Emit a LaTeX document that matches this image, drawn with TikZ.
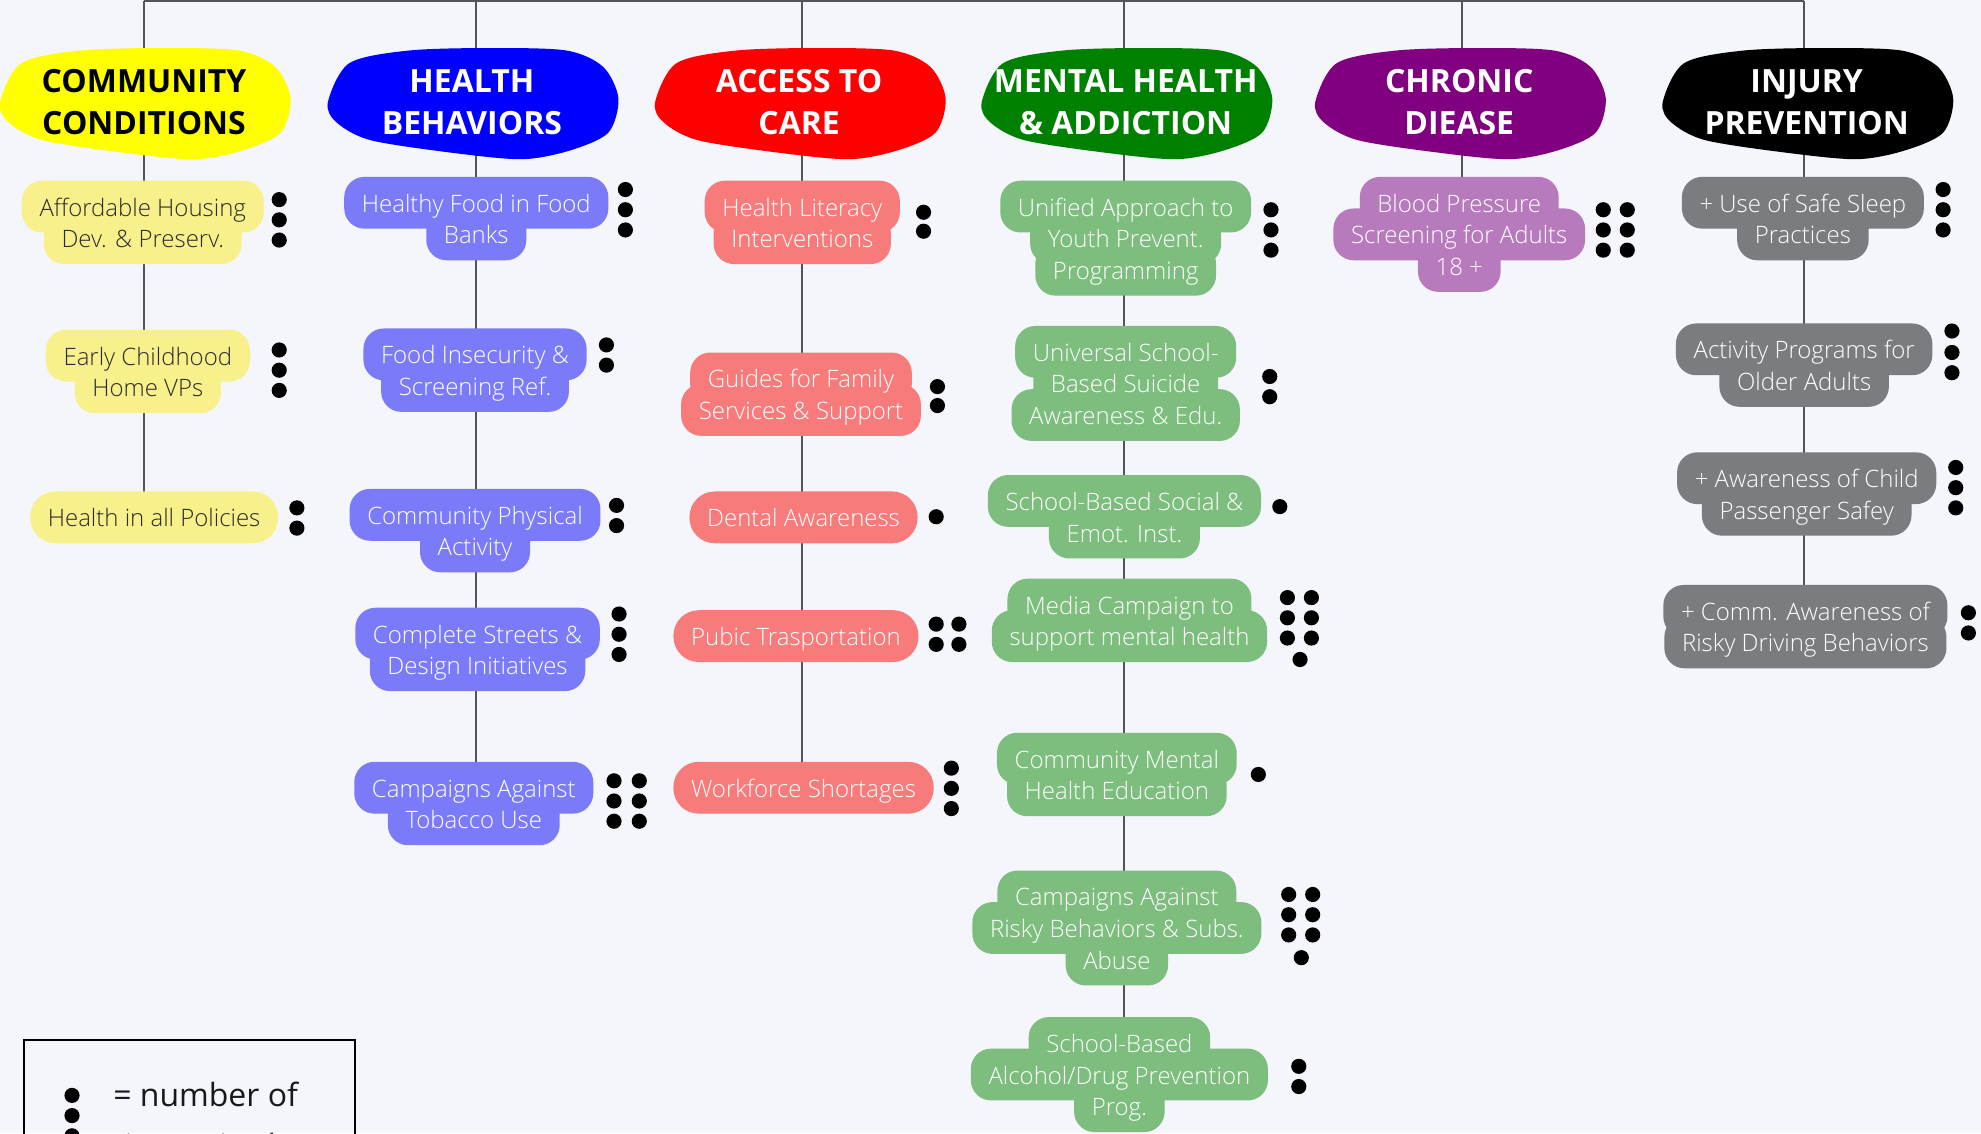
\documentclass[tikz,border=0pt]{standalone}
\usepackage{fontspec}
\setmainfont{Open Sans}
\newfontfamily\lightfont{Open Sans Light}
\usetikzlibrary{backgrounds}

\definecolor{pagebg}{HTML}{F4F6FB}
\definecolor{linkgray}{HTML}{50555C}
\definecolor{headyellow}{HTML}{FFFF00}
\definecolor{headblue}{HTML}{0000FF}
\definecolor{headred}{HTML}{FF0000}
\definecolor{headgreen}{HTML}{008000}
\definecolor{headpurple}{HTML}{800080}
\definecolor{headblack}{HTML}{000000}
\definecolor{ccfill}{HTML}{F8F08A}
\definecolor{hbfill}{HTML}{7B7BF9}
\definecolor{acfill}{HTML}{F87B7B}
\definecolor{mhfill}{HTML}{7DBD7E}
\definecolor{cdfill}{HTML}{B77BBD}
\definecolor{ipfill}{HTML}{7B7C80}
\definecolor{cctext}{HTML}{2B2B2B}

% one entry per text line: name/x/y/style/corner radius/text
\def\itemlines{
cc1a/1.13/-1.635/ccitem/0.16/{Affordable Housing},
cc1b/1.13/-1.885/ccitem/0.16/{Dev. \& Preserv.},
cc2a/1.17/-2.815/ccitem/0.16/{Early Childhood},
cc2b/1.17/-3.065/ccitem/0.16/{Home VPs},
cc3a/1.22/-4.095/ccitem/0.2/{Health in all Policies},
hb1a/3.77/-1.605/hbitem/0.16/{Healthy Food in Food},
hb1b/3.77/-1.855/hbitem/0.16/{Banks},
hb2a/3.76/-2.805/hbitem/0.16/{Food Insecurity \&},
hb2b/3.76/-3.055/hbitem/0.16/{Screening Ref.},
hb3a/3.76/-4.075/hbitem/0.16/{Community Physical},
hb3b/3.76/-4.325/hbitem/0.16/{Activity},
hb4a/3.78/-5.015/hbitem/0.16/{Complete Streets \&},
hb4b/3.78/-5.265/hbitem/0.16/{Design Initiatives},
hb5a/3.75/-6.235/hbitem/0.16/{Campaigns Against},
hb5b/3.75/-6.485/hbitem/0.16/{Tobacco Use},
ac1a/6.35/-1.635/acitem/0.16/{Health Literacy},
ac1b/6.35/-1.885/acitem/0.16/{Interventions},
ac2a/6.34/-2.995/acitem/0.16/{Guides for Family},
ac2b/6.34/-3.245/acitem/0.16/{Services \& Support},
ac3a/6.36/-4.095/acitem/0.2/{Dental Awareness},
ac4a/6.30/-5.035/acitem/0.2/{Pubic Trasportation},
ac5a/6.36/-6.235/acitem/0.2/{Workforce Shortages},
mh1a/8.91/-1.635/mhitem/0.16/{Unified Approach to},
mh1b/8.91/-1.885/mhitem/0.16/{Youth Prevent.},
mh1c/8.91/-2.135/mhitem/0.16/{Programming},
mh2a/8.91/-2.785/mhitem/0.16/{Universal School-},
mh2b/8.91/-3.035/mhitem/0.16/{Based Suicide},
mh2c/8.91/-3.285/mhitem/0.16/{Awareness \& Edu.},
mh3a/8.90/-3.965/mhitem/0.16/{School-Based Social \&},
mh3b/8.90/-4.215/mhitem/0.16/{Emot. Inst.},
mh4a/8.94/-4.785/mhitem/0.16/{Media Campaign to},
mh4b/8.94/-5.035/mhitem/0.16/{support mental health},
mh5a/8.84/-6.005/mhitem/0.16/{Community Mental},
mh5b/8.84/-6.255/mhitem/0.16/{Health Education},
mh6a/8.84/-7.095/mhitem/0.16/{Campaigns Against},
mh6b/8.84/-7.345/mhitem/0.16/{Risky Behaviors \& Subs.},
mh6c/8.84/-7.595/mhitem/0.16/{Abuse},
mh7a/8.86/-8.255/mhitem/0.16/{School-Based},
mh7b/8.86/-8.505/mhitem/0.16/{Alcohol/Drug Prevention},
mh7c/8.86/-8.755/mhitem/0.16/{Prog.},
cd1a/11.55/-1.605/cditem/0.16/{Blood Pressure},
cd1b/11.55/-1.855/cditem/0.16/{Screening for Adults},
cd1c/11.55/-2.105/cditem/0.16/{18 +},
ip1a/14.27/-1.605/ipitem/0.16/{+ Use of Safe Sleep},
ip1b/14.27/-1.855/ipitem/0.16/{Practices},
ip2a/14.28/-2.765/ipitem/0.16/{Activity Programs for},
ip2b/14.28/-3.015/ipitem/0.16/{Older Adults},
ip3a/14.30/-3.785/ipitem/0.16/{+ Awareness of Child},
ip3b/14.30/-4.035/ipitem/0.16/{Passenger Safey},
ip4a/14.29/-4.835/ipitem/0.16/{+ Comm. Awareness of},
ip4b/14.29/-5.085/ipitem/0.16/{Risky Driving Behaviors}}

\begin{document}
\begin{tikzpicture}[
  every node/.style={font=\lightfont\fontsize{5.4}{7.1}\selectfont},
  head/.style={font=\bfseries\fontsize{7.2}{9.4}\selectfont, align=center, inner sep=0pt},
  itembox/.style={minimum height=0.41cm, inner xsep=0.14cm, inner ysep=0pt, text height=0.18cm, text depth=0.03cm},
  itemtext/.style={inner sep=0pt, text height=0.18cm, text depth=0.03cm},
  ccitem/.style={fill=ccfill, text=cctext},
  hbitem/.style={fill=hbfill, text=white},
  acitem/.style={fill=acfill, text=white},
  mhitem/.style={fill=mhfill, text=white},
  cditem/.style={fill=cdfill, text=white},
  ipitem/.style={fill=ipfill, text=white},
  keytext/.style={font=\normalfont\fontsize{7.2}{11.4}\selectfont, align=left, inner sep=0pt, text=black!90},
  link/.style={draw=linkgray, line width=0.45pt},
  dot/.style={fill=black}]

\useasboundingbox (0,0) rectangle (15.68,-8.97);

% headers
\foreach \n/\x/\c/\tc/\t in {cc/1.14/headyellow/black/{COMMUNITY\\CONDITIONS},
    hb/3.735/headblue/white/{HEALTH\\BEHAVIORS}, ac/6.325/headred/white/{ACCESS TO\\CARE},
    mh/8.91/headgreen/white/{MENTAL HEALTH\\\& ADDICTION}, cd/11.55/headpurple/white/{CHRONIC\\DIEASE},
    ip/14.30/headblack/white/{INJURY\\PREVENTION}} {
  \fill[\c, shift={(\x,-0.81)}] plot[smooth cycle] coordinates {(-1.14,0) (-0.97,0.31) (-0.50,0.41)
    (0.15,0.43) (0.75,0.41) (1.04,0.28) (1.16,0.03) (1.08,-0.24) (0.78,-0.38) (0.40,-0.45)
    (-0.15,-0.40) (-0.80,-0.30) (-1.07,-0.16)};
  \node[head, text=\tc] (\n) at (\x,-0.81) {\t};
}

% item shapes, then item texts
\foreach \n/\x/\y/\s/\r/\t in \itemlines
  \node[itembox, \s, rounded corners=\r cm] (\n box) at (\x,\y) {\phantom{\t}};
\foreach \n/\x/\y/\s/\r/\t in \itemlines
  \node[itemtext, \s, fill=none] (\n) at (\x,\y) {\t};

% dots
\foreach \x/\y in {2.21/-1.58, 2.21/-1.74, 2.21/-1.90, 2.21/-2.77, 2.21/-2.93, 2.21/-3.09,
    2.35/-4.02, 2.35/-4.18,
    4.95/-1.50, 4.95/-1.66, 4.95/-1.82, 4.80/-2.73, 4.80/-2.89, 4.88/-4.00, 4.88/-4.16,
    4.90/-4.86, 4.90/-5.02, 4.90/-5.18,
    4.86/-6.18, 5.06/-6.18, 4.86/-6.34, 5.06/-6.34, 4.86/-6.50, 5.06/-6.50,
    7.31/-1.68, 7.31/-1.83, 7.42/-3.06, 7.42/-3.21, 7.41/-4.09,
    7.41/-4.94, 7.59/-4.94, 7.41/-5.10, 7.59/-5.10, 7.53/-6.08, 7.53/-6.24, 7.53/-6.40,
    10.06/-1.66, 10.06/-1.82, 10.06/-1.98, 10.05/-2.98, 10.05/-3.14, 10.13/-4.01,
    10.19/-4.73, 10.38/-4.73, 10.19/-4.89, 10.38/-4.89, 10.19/-5.05, 10.38/-5.05, 10.29/-5.22,
    9.96/-6.13,
    10.20/-7.08, 10.39/-7.08, 10.20/-7.24, 10.39/-7.24, 10.20/-7.40, 10.39/-7.40, 10.30/-7.58,
    10.28/-8.44, 10.28/-8.60,
    12.69/-1.66, 12.88/-1.66, 12.69/-1.82, 12.88/-1.82, 12.69/-1.98, 12.88/-1.98,
    15.38/-1.50, 15.38/-1.66, 15.38/-1.82, 15.45/-2.62, 15.45/-2.79, 15.45/-2.95,
    15.48/-3.70, 15.48/-3.86, 15.48/-4.02, 15.58/-4.85, 15.58/-5.01,
    0.57/-8.67, 0.57/-8.83, 0.57/-8.99}
  \fill[dot] (\x,\y) circle (0.06);

% legend
\draw[line width=0.45pt] (0.19,-8.23) rectangle (2.81,-9.30);
\node[keytext, anchor=north west] (key) at (0.89,-8.56) {= number of\\times cited};

% tree lines
\begin{scope}[on background layer]
\fill[pagebg] (0,0) rectangle (15.68,-8.97);
\coordinate (t1) at (1.14,-0.01);
\coordinate (t2) at (3.77,-0.01);
\coordinate (t3) at (6.35,-0.01);
\coordinate (t4) at (8.90,-0.01);
\coordinate (t5) at (11.57,-0.01);
\coordinate (t6) at (14.28,-0.01);
\draw[link] (t1) -- (t6);
\foreach \a/\b in {t1/cc, cc/cc1a, cc1b/cc2a, cc2b/cc3a}
  \draw[link] (\a -| t1) -- (\b -| t1);
\foreach \a/\b in {t2/hb, hb/hb1a, hb1b/hb2a, hb2b/hb3a, hb3b/hb4a, hb4b/hb5a}
  \draw[link] (\a -| t2) -- (\b -| t2);
\foreach \a/\b in {t3/ac, ac/ac1a, ac1b/ac2a, ac2b/ac3a, ac3a/ac4a, ac4a/ac5a}
  \draw[link] (\a -| t3) -- (\b -| t3);
\foreach \a/\b in {t4/mh, mh/mh1a, mh1c/mh2a, mh2c/mh3a, mh3b/mh4a, mh4b/mh5a, mh5b/mh6a, mh6c/mh7a}
  \draw[link] (\a -| t4) -- (\b -| t4);
\foreach \a/\b in {t5/cd, cd/cd1a}
  \draw[link] (\a -| t5) -- (\b -| t5);
\foreach \a/\b in {t6/ip, ip/ip1a, ip1b/ip2a, ip2b/ip3a, ip3b/ip4a}
  \draw[link] (\a -| t6) -- (\b -| t6);
\end{scope}
\end{tikzpicture}
\end{document}
